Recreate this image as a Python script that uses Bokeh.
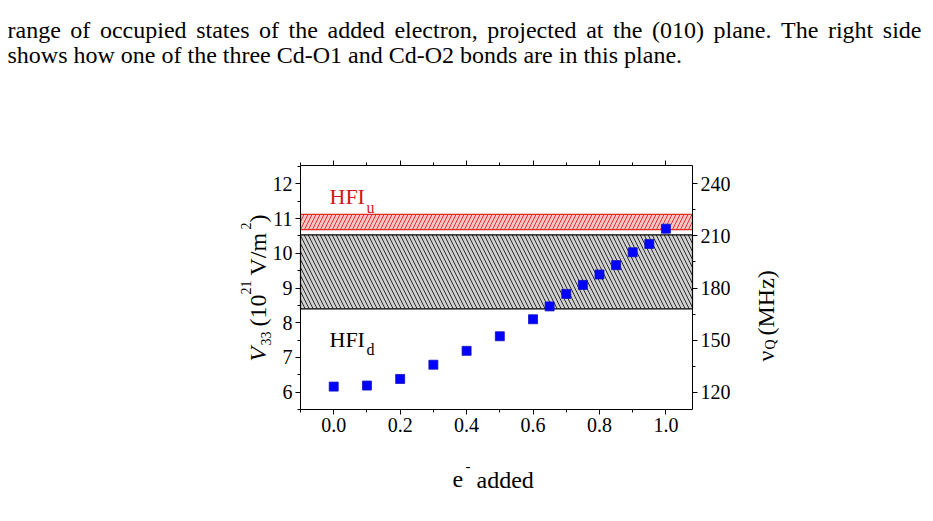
import numpy as np
from bokeh.plotting import figure
from bokeh.models import (Range1d, LinearAxis, Label, BoxAnnotation, FixedTicker,
                          ColumnDataSource, PrintfTickFormatter)
from bokeh.embed import file_html
from bokeh.resources import INLINE

# ---------------- data ----------------
electrons_added = [0.0, 0.1, 0.2, 0.3, 0.4, 0.5, 0.6, 0.65, 0.7, 0.75, 0.8, 0.85, 0.9, 0.95, 1.0]
v33 = [6.16, 6.19, 6.38, 6.79, 7.19, 7.61, 8.10, 8.47, 8.83, 9.09, 9.39, 9.66, 10.03, 10.27, 10.71]
hfi_u_band = [10.68, 11.12]   # V33 range of HFI_u
hfi_d_band = [8.40, 10.53]    # V33 range of HFI_d
x_ticks = [0.0, 0.2, 0.4, 0.6, 0.8, 1.0]
x_minor = [-0.1, 0.1, 0.3, 0.5, 0.7, 0.9]
left_ticks = [6, 7, 8, 9, 10, 11, 12]
left_minor = [5.5, 6.5, 7.5, 8.5, 9.5, 10.5, 11.5, 12.5]
right_ticks = [120, 150, 180, 210, 240]
right_minor = [135, 165, 195, 225]
mhz_per_v33 = 20.0
x_lo, x_hi = -0.1, 1.08
y_lo, y_hi = 5.5, 12.53

paragraph = [
    "range of occupied states of the added electron, projected at the (010) plane. The right side",
    "shows how one of the three Cd-O1 and Cd-O2 bonds are in this plane.",
]

SERIF = "Liberation Serif"
W, H = 933, 521
FL, FR, FT, FB = 300, 692, 165, 409  # plot box edges in canvas pixels

# the frame covers the whole canvas; the chart box sits inside it
kx = (FR - FL) / (x_hi - x_lo)
ky = (FB - FT) / (y_hi - y_lo)
xr = Range1d(x_lo - FL / kx, x_hi + (W - FR) / kx)
yr = Range1d(y_lo - (H - FB) / ky, y_hi + FT / ky)

p = figure(width=W, height=H, output_backend="svg", toolbar_location=None,
           x_range=xr, y_range=yr,
           min_border_left=0, min_border_right=0, min_border_top=0, min_border_bottom=0,
           background_fill_color="white", border_fill_color="white")
p.extra_y_ranges = {"mhz": Range1d(yr.start * mhz_per_v33, yr.end * mhz_per_v33)}
p.xgrid.visible = False
p.ygrid.visible = False
p.outline_line_color = None

def style_axis(ax, ticks, minor, show_labels=True):
    ax.ticker = FixedTicker(ticks=ticks, minor_ticks=minor)
    ax.axis_line_color = "black"
    ax.axis_line_width = 1
    ax.major_tick_line_color = "black"
    ax.minor_tick_line_color = "black"
    ax.major_tick_in = 0
    ax.major_tick_out = 5
    ax.minor_tick_in = 0
    ax.minor_tick_out = 3
    ax.major_label_text_font = SERIF
    ax.major_label_text_font_size = "20px"
    ax.major_label_text_color = "black" if show_labels else None
    ax.major_label_standoff = 3
    ax.axis_label = None

xa = p.xaxis[0]
style_axis(xa, x_ticks, x_minor)
xa.formatter = PrintfTickFormatter(format="%.1f")
xa.fixed_location = y_lo
xa.bounds = (x_lo, x_hi)

ya = p.yaxis[0]
style_axis(ya, left_ticks, left_minor)
ya.fixed_location = x_lo
ya.bounds = (y_lo, y_hi)

top_ax = LinearAxis(fixed_location=y_hi, bounds=(x_lo, x_hi))
style_axis(top_ax, x_ticks, x_minor, show_labels=False)
p.add_layout(top_ax, "above")

right_ax = LinearAxis(y_range_name="mhz", fixed_location=x_hi,
                      bounds=(y_lo * mhz_per_v33, y_hi * mhz_per_v33))
style_axis(right_ax, right_ticks, right_minor)
p.add_layout(right_ax, "right")

# bands
p.add_layout(BoxAnnotation(left=x_lo, right=x_hi, bottom=hfi_u_band[0], top=hfi_u_band[1],
                           level="underlay",
                           fill_color="#fbc4c4", fill_alpha=1.0,
                           hatch_pattern="/", hatch_color="#e03030", hatch_scale=8, hatch_weight=1,
                           line_color="#e02828", line_width=1.2, line_alpha=1.0))
p.add_layout(BoxAnnotation(left=x_lo, right=x_hi, bottom=hfi_d_band[0], top=hfi_d_band[1],
                           level="underlay",
                           fill_color="#d0d0d0", fill_alpha=1.0,
                           hatch_pattern="\\", hatch_color="#282828", hatch_scale=8, hatch_weight=1,
                           line_color="black", line_width=1.2, line_alpha=1.0))

src = ColumnDataSource(dict(x=electrons_added, y=v33))
p.scatter("x", "y", source=src, marker="square", size=9,
          fill_color="#0000ff", line_color="#1010c0", line_width=0.8)

def lab(text, cx, cy, size, color="black", style="normal", align="left",
        baseline="alphabetic", angle=0.0):
    p.add_layout(Label(x=cx, y=H - cy, x_units="screen", y_units="screen",
                       text=text, text_font=SERIF, text_font_size=f"{size}px",
                       text_color=color, text_font_style=style, text_align=align,
                       text_baseline=baseline, angle=angle))

# in-plot labels
lab("HFI", 329, 196, 22, color="#d01818")
lab("u", 366, 207, 16, color="#d01818")
lab("HFI", 329, 339, 22)
lab("d", 366, 349, 16)

# x-axis title
lab("e", 452, 479, 24)
lab("-", 465, 465, 15)
lab("added", 476, 479, 24)

# left axis title (rotated, reads bottom to top)
A = np.pi / 2
lab("V", 257, 361, 24, style="italic", angle=A)
lab("33", 265, 345, 14, angle=A)
lab("(10", 257, 326, 24, angle=A)
lab("21", 245, 294, 14, angle=A)
lab("V/m", 257, 275, 24, angle=A)
lab("2", 245, 229, 14, angle=A)
lab(")", 257, 222, 24, angle=A)

# right axis title (rotated)
lab("\u03bd", 765, 361, 24, angle=A)
lab("Q", 770, 349, 14, angle=A)
lab("(MHz)", 765, 335, 24, angle=A)

# paragraph text above the figure (first line justified)
TW = {" ": 250, "(": 333, ")": 333, ",": 250, ".": 250, "-": 333,
      "a": 444, "b": 500, "c": 444, "d": 500, "e": 444, "f": 333, "g": 500, "h": 500,
      "i": 278, "j": 278, "k": 500, "l": 278, "m": 778, "n": 500, "o": 500, "p": 500,
      "q": 500, "r": 333, "s": 389, "t": 278, "u": 500, "v": 500, "w": 722, "x": 500,
      "y": 500, "z": 444, "T": 611, "C": 667, "O": 722, "D": 722}
def text_w(s, size):
    return sum(TW.get(ch, 500) for ch in s) * size / 1000.0

PSIZE = 24
words = paragraph[0].split(" ")
left_edge, right_edge = 7, 921
gap = (right_edge - left_edge - sum(text_w(w_, PSIZE) for w_ in words)) / (len(words) - 1)
xpos = left_edge
for w_ in words:
    lab(w_, xpos, 29, PSIZE)
    xpos += text_w(w_, PSIZE) + gap
lab(paragraph[1], left_edge, 54, PSIZE)

open("out.html", "w").write(file_html(p, INLINE))
